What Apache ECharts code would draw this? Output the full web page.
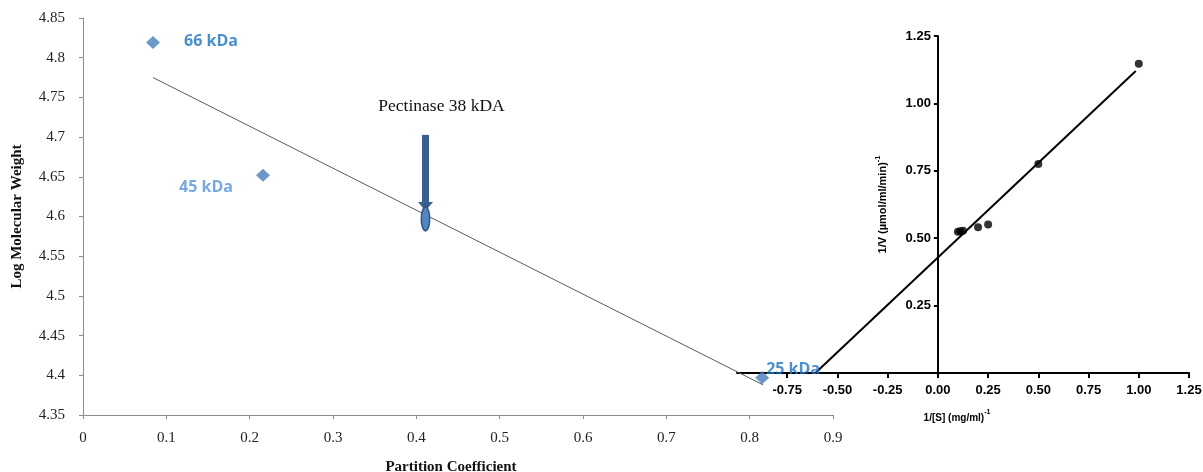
<!DOCTYPE html>
<html>
<head>
<meta charset="utf-8">
<script src="https://cdn.jsdelivr.net/npm/echarts@6/dist/echarts.min.js"></script>
<style>
  html, body { margin: 0; padding: 0; background: #ffffff; }
  #chart { width: 1203px; height: 472px; }
</style>
</head>
<body>
<div id="chart"></div>
<script>
// Gel-filtration calibration: partition coefficient vs log molecular weight
const markerNames = ['66 kDa', '45 kDa', '25 kDa'];
const partitionCoef = [0.084, 0.216, 0.815];
const logMW = [4.819, 4.652, 4.397];

// Calibration line end points
const fitX = [0.084, 0.816];
const fitY = [4.775, 4.388];

// Unknown enzyme located on the calibration line
const pectinaseLabel = 'Pectinase 38 kDA';
const pectinaseX = [0.411];
const pectinaseY = [4.597];

// Lineweaver-Burk plot (inset)
const invS = [0.100, 0.111, 0.125, 0.200, 0.250, 0.500, 1.000];
const invV = [0.524, 0.526, 0.528, 0.541, 0.551, 0.775, 1.147];
const lbLineX = [-0.61, 0.985];
const lbLineY = [0.0, 1.12];
const lbXTicks = [-0.75, -0.5, -0.25, 0, 0.25, 0.5, 0.75, 1.0, 1.25];
const lbYTicks = [0.25, 0.5, 0.75, 1.0, 1.25];
const lbXMin = -1;
const lbXMax = 1.25;

const SERIF = '"Liberation Serif", "Times New Roman", serif';
const SANS = '"Liberation Sans", Arial, sans-serif';
const LABEL_FONT = '"Open Sans", "Noto Sans", sans-serif';

// inset grid box
const insetLeft = 737;
const insetRight = 14;
const insetWidth = 1203 - insetLeft - insetRight;
// the inset's vertical axis sits at 1/[S] = 0
const insetYAxisShift = insetWidth * (0 - lbXMin) / (lbXMax - lbXMin);

// per-marker label placement and colour
const markerLabelStyle = [
  { position: 'right', distance: 24, offset: [0, -1], color: '#1a72bd' },
  { position: 'left', distance: 23, offset: [0, 12], color: '#5592d6' },
  { position: 'right', distance: -3, offset: [0, -8], color: '#1a74c2' }
];

const markerData = markerNames.map((name, i) => ({
  name: name,
  value: [partitionCoef[i], logMW[i]],
  label: {
    show: true,
    formatter: '{b}',
    position: markerLabelStyle[i].position,
    distance: markerLabelStyle[i].distance,
    offset: markerLabelStyle[i].offset,
    color: markerLabelStyle[i].color,
    fontFamily: LABEL_FONT,
    fontWeight: 'bold',
    fontSize: 16
  }
}));

const fitData = fitX.map((x, i) => [x, fitY[i]]);
const pectinaseData = pectinaseX.map((x, i) => [x, pectinaseY[i]]);
const lbPoints = invS.map((x, i) => [x, invV[i]]);
const lbLine = lbLineX.map((x, i) => [x, lbLineY[i]]);

// Arrow pointing down onto the calibration line, with its caption
function renderArrow(params, api) {
  const p = api.coord([api.value(0), api.value(1)]);
  const cx = p[0], cy = p[1];
  const rx = 4.2, ry = 12;
  return {
    type: 'group',
    children: [
      {
        type: 'rect',
        shape: { x: cx - 3.5, y: cy - 84, width: 7, height: 68 },
        style: { fill: '#3a5f8e' }
      },
      {
        type: 'polygon',
        shape: { points: [[cx - 7.5, cy - 17], [cx + 7.5, cy - 17], [cx, cy - 8]] },
        style: { fill: '#3a5f8e' }
      },
      {
        type: 'path',
        shape: {
          pathData: 'M ' + cx + ' ' + (cy - ry) +
            ' A ' + rx + ' ' + ry + ' 0 1 0 ' + cx + ' ' + (cy + ry) +
            ' A ' + rx + ' ' + ry + ' 0 1 0 ' + cx + ' ' + (cy - ry) + ' Z'
        },
        style: { fill: '#5385c0', stroke: '#2f5583', lineWidth: 1.5 }
      },
      {
        type: 'text',
        x: cx + 16,
        y: cy - 112,
        style: {
          text: pectinaseLabel,
          fill: '#111111',
          font: '17.5px ' + SERIF,
          textAlign: 'center',
          textVerticalAlign: 'middle'
        }
      }
    ]
  };
}

const chart = echarts.init(document.getElementById('chart'), null, { renderer: 'canvas' });

chart.setOption({
  animation: false,
  backgroundColor: '#ffffff',
  grid: [
    { left: 83, right: 370, top: 18, bottom: 57, containLabel: false, outerBoundsMode: 'none' },
    { left: insetLeft, right: insetRight, top: 36, bottom: 99, containLabel: false, outerBoundsMode: 'none' }
  ],
  xAxis: [
    {
      gridIndex: 0,
      type: 'value',
      min: 0,
      max: 0.9,
      interval: 0.1,
      splitLine: { show: false },
      axisLine: { onZero: false, lineStyle: { color: '#8c8c8c', width: 1 } },
      axisTick: { show: true, inside: false, length: 4, lineStyle: { color: '#8c8c8c' } },
      axisLabel: { fontFamily: SERIF, fontSize: 15, color: '#222222', margin: 16 },
      name: 'Partition Coefficient',
      nameLocation: 'middle',
      nameGap: 45,
      nameTextStyle: { fontFamily: SERIF, fontSize: 15, fontWeight: 'bold', color: '#111111', padding: [0, 14, 0, 0] }
    },
    {
      gridIndex: 1,
      type: 'value',
      min: lbXMin,
      max: lbXMax,
      interval: 0.25,
      splitLine: { show: false },
      axisLine: { onZero: false, lineStyle: { color: '#000000', width: 2 } },
      axisTick: { show: true, inside: false, length: 5, customValues: lbXTicks, lineStyle: { color: '#000000', width: 2 } },
      axisLabel: {
        customValues: lbXTicks,
        formatter: v => v.toFixed(2),
        fontFamily: SANS, fontSize: 13, fontWeight: 'bold', color: '#000000', margin: 11
      },
      name: '{n|1/[S] (mg/ml)}{s|-1}',
      nameLocation: 'middle',
      nameGap: 36,
      nameTextStyle: {
        padding: [0, 12, 0, 0],
        rich: {
          n: { fontFamily: SANS, fontSize: 10, fontWeight: 'bold', color: '#000000', lineHeight: 14, verticalAlign: 'bottom' },
          s: { fontFamily: SANS, fontSize: 7, fontWeight: 'bold', color: '#000000', lineHeight: 14, verticalAlign: 'top' }
        }
      }
    }
  ],
  yAxis: [
    {
      gridIndex: 0,
      type: 'value',
      min: 4.35,
      max: 4.85,
      interval: 0.05,
      splitLine: { show: false },
      axisLine: { show: true, onZero: false, lineStyle: { color: '#8c8c8c', width: 1 } },
      axisTick: { show: true, inside: false, length: 4, lineStyle: { color: '#8c8c8c' } },
      axisLabel: { fontFamily: SERIF, fontSize: 15, color: '#222222', margin: 18 },
      name: 'Log Molecular Weight',
      nameLocation: 'middle',
      nameGap: 58,
      nameTextStyle: { fontFamily: SERIF, fontSize: 15, fontWeight: 'bold', color: '#111111' }
    },
    {
      gridIndex: 1,
      type: 'value',
      position: 'left',
      offset: -insetYAxisShift,
      min: 0,
      max: 1.25,
      interval: 0.25,
      splitLine: { show: false },
      axisLine: { show: true, onZero: false, lineStyle: { color: '#000000', width: 2 } },
      axisTick: { show: true, inside: false, length: 4, customValues: lbYTicks, lineStyle: { color: '#000000', width: 2 } },
      axisLabel: {
        customValues: lbYTicks,
        formatter: v => v.toFixed(2),
        fontFamily: SANS, fontSize: 13, fontWeight: 'bold', color: '#000000', margin: 7
      },
      name: '{n|1/V (µmol/ml/min)}{s|-1}',
      nameLocation: 'middle',
      nameGap: 49,
      nameTextStyle: {
        rich: {
          n: { fontFamily: SANS, fontSize: 11, fontWeight: 'bold', color: '#000000', lineHeight: 15, verticalAlign: 'bottom' },
          s: { fontFamily: SANS, fontSize: 7.5, fontWeight: 'bold', color: '#000000', lineHeight: 15, verticalAlign: 'top' }
        }
      }
    }
  ],
  series: [
    {
      type: 'line',
      xAxisIndex: 0,
      yAxisIndex: 0,
      data: fitData,
      symbol: 'none',
      lineStyle: { color: '#5a5a5a', width: 1 },
      z: 2
    },
    {
      type: 'custom',
      xAxisIndex: 0,
      yAxisIndex: 0,
      data: pectinaseData,
      renderItem: renderArrow,
      z: 3
    },
    {
      type: 'line',
      xAxisIndex: 1,
      yAxisIndex: 1,
      data: lbLine,
      symbol: 'none',
      lineStyle: { color: '#000000', width: 2 },
      z: 2
    },
    {
      type: 'scatter',
      xAxisIndex: 1,
      yAxisIndex: 1,
      data: lbPoints,
      symbol: 'circle',
      symbolSize: 8,
      itemStyle: { color: '#000000' },
      z: 3
    },
    {
      type: 'scatter',
      xAxisIndex: 0,
      yAxisIndex: 0,
      data: markerData,
      symbol: 'diamond',
      symbolSize: [14, 13],
      itemStyle: { color: '#4a7dbb' },
      z: 4
    }
  ]
});
</script>
</body>
</html>
